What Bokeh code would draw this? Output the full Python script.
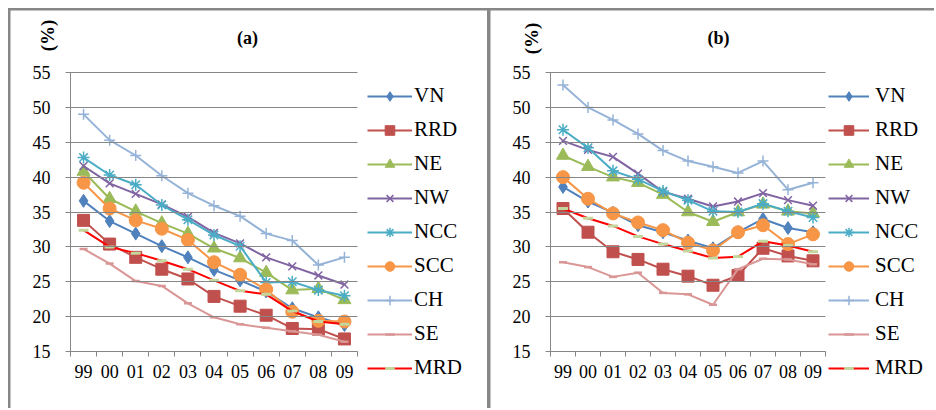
import math
from bokeh.plotting import figure
from bokeh.models import Range1d, FixedTicker, Legend, LegendItem, Label
from bokeh.layouts import row
from bokeh.embed import file_html
from bokeh.resources import INLINE

# ---------------- data ----------------
years = ["99", "00", "01", "02", "03", "04", "05", "06", "07", "08", "09"]
series_names = ["VN", "RRD", "NE", "NW", "NCC", "SCC", "CH", "SE", "MRD"]
y_ticks = [15, 20, 25, 30, 35, 40, 45, 50, 55]

a_VN = [36.6, 33.7, 31.9, 30.1, 28.5, 26.7, 25.2, 23.6, 21.2, 19.9, 18.8]
a_RRD = [33.8, 30.4, 28.5, 26.8, 25.4, 22.9, 21.5, 20.2, 18.3, 18.2, 16.8]
a_NE = [40.8, 36.9, 35.1, 33.4, 31.9, 29.8, 28.4, 26.3, 23.8, 24.0, 22.4]
a_NW = [41.6, 39.1, 37.6, 36.1, 34.3, 32.0, 30.5, 28.5, 27.2, 25.9, 24.6]
a_NCC = [42.8, 40.3, 38.9, 36.0, 33.9, 31.7, 30.1, 24.9, 25.0, 23.8, 23.0]
a_SCC = [39.2, 35.5, 33.8, 32.6, 31.0, 27.8, 26.0, 23.9, 20.7, 19.4, 19.3]
a_CH = [49.0, 45.3, 43.1, 40.2, 37.7, 35.9, 34.4, 31.9, 30.9, 27.4, 28.5]
a_SE = [29.7, 27.6, 25.1, 24.4, 21.9, 19.9, 18.9, 18.4, 17.9, 17.4, 16.4]
a_MRD = [32.4, 30.0, 29.1, 28.0, 26.8, 25.2, 23.7, 23.2, 20.8, 19.3, 18.9]

b_VN = [38.6, 36.5, 34.9, 33.1, 32.1, 30.9, 29.8, 32.1, 34.0, 32.7, 32.1]
b_RRD = [35.5, 32.1, 29.3, 28.2, 26.8, 25.8, 24.5, 25.9, 29.8, 28.7, 28.0]
b_NE = [43.1, 41.5, 40.0, 39.2, 37.5, 35.0, 33.6, 35.0, 36.1, 35.1, 34.8]
b_NW = [45.2, 43.9, 42.9, 40.5, 37.9, 36.9, 35.8, 36.5, 37.7, 36.7, 35.9]
b_NCC = [46.8, 44.2, 40.9, 39.7, 38.0, 36.7, 35.1, 35.0, 36.2, 35.1, 34.2]
b_SCC = [40.0, 36.9, 34.8, 33.5, 32.4, 30.6, 29.5, 32.1, 33.1, 30.4, 31.8]
b_CH = [53.2, 50.0, 48.2, 46.2, 43.8, 42.3, 41.5, 40.6, 42.3, 38.2, 39.2]
b_SE = [27.8, 27.1, 25.7, 26.3, 23.4, 23.2, 21.7, 26.8, 28.3, 28.2, 27.5]
b_MRD = [35.5, 34.1, 33.0, 31.5, 30.4, 29.4, 28.4, 28.6, 30.8, 30.2, 29.3]

panel_a = [a_VN, a_RRD, a_NE, a_NW, a_NCC, a_SCC, a_CH, a_SE, a_MRD]
panel_b = [b_VN, b_RRD, b_NE, b_NW, b_NCC, b_SCC, b_CH, b_SE, b_MRD]

# ---------------- styles ----------------
STYLE = {
    "VN":  dict(color="#4F81BD", marker="diamond", size=13, mcolor="#4F81BD", mlw=1),
    "RRD": dict(color="#C0504D", marker="square", size=12, mcolor="#C0504D", mlw=1),
    "NE":  dict(color="#9BBB59", marker="triangle", size=13, mcolor="#9BBB59", mlw=1),
    "NW":  dict(color="#8064A2", marker="x", size=11, mcolor="#8064A2", mlw=1.5),
    "NCC": dict(color="#4BACC6", marker="asterisk", size=12, mcolor="#4BACC6", mlw=1.5),
    "SCC": dict(color="#F79646", marker="circle", size=13, mcolor="#F79646", mlw=1),
    "CH":  dict(color="#95B3D7", marker="cross", size=11, mcolor="#95B3D7", mlw=1.5),
    "SE":  dict(color="#D99694", marker="dash", size=8, mcolor="#D99694", mlw=2.5),
    "MRD": dict(color="#FF0000", marker="dash", size=10, mcolor="#C3D69B", mlw=3),
}
GRAY = "#868686"
FONT = "'Liberation Serif', 'Times New Roman', serif"
FIG_H = 398
Y_TOP_PX, Y_BOT_PX = 62, 341          # pixel rows of 55 and 15 inside a figure
AXIS_X_PX = 60                        # pixel column of the y axis inside a figure


def build(values, title, width, right_px, leg_x, glyph_w, standoff, title_xy, pct_xy):
    n = len(years)
    xppu = (right_px - AXIS_X_PX) / n
    x0 = -0.5 - AXIS_X_PX / xppu
    x1 = n - 0.5 + (width - right_px) / xppu
    yppu = (Y_BOT_PX - Y_TOP_PX) / (y_ticks[-1] - y_ticks[0])
    y1 = y_ticks[-1] + Y_TOP_PX / yppu
    y0 = y_ticks[0] - (FIG_H - Y_BOT_PX) / yppu

    p = figure(width=width, height=FIG_H, output_backend="svg", toolbar_location=None,
               x_range=Range1d(x0, x1), y_range=Range1d(y0, y1),
               min_border_left=0, min_border_right=0,
               min_border_top=0, min_border_bottom=0)
    p.title.visible = False
    p.outline_line_color = None
    p.background_fill_color = "white"
    p.border_fill_color = "white"
    p.grid.visible = False

    xs = list(range(n))
    xa = p.xaxis[0]
    xa.fixed_location = y_ticks[0]
    xa.bounds = (-0.5, n - 0.5)
    xa.ticker = FixedTicker(ticks=xs, minor_ticks=[i - 0.5 for i in range(n + 1)])
    xa.major_label_overrides = {i: years[i] for i in xs}
    xa.major_tick_out = 0
    xa.major_tick_in = 0
    xa.minor_tick_out = 5
    xa.minor_tick_in = 0
    xa.minor_tick_line_color = GRAY
    xa.axis_line_color = GRAY
    xa.major_label_standoff = 8
    xa.major_label_text_font = FONT
    xa.major_label_text_font_size = "18px"
    xa.major_label_text_color = "#000000"

    ya = p.yaxis[0]
    ya.fixed_location = -0.5
    ya.bounds = (y_ticks[0], y_ticks[-1])
    ya.ticker = FixedTicker(ticks=y_ticks, minor_ticks=[])
    ya.major_tick_out = 5
    ya.major_tick_in = right_px - AXIS_X_PX     # ticks run across as gridlines
    ya.major_tick_line_color = GRAY
    ya.axis_line_color = GRAY
    ya.major_label_standoff = 15
    ya.major_label_text_font = FONT
    ya.major_label_text_font_size = "18px"
    ya.major_label_text_color = "#000000"

    items = []
    for name, vals in zip(series_names, values):
        st = STYLE[name]
        ln = p.line(xs, vals, line_color=st["color"], line_width=2)
        sc = p.scatter(xs, vals, marker=st["marker"], size=st["size"],
                       line_color=st["mcolor"], fill_color=st["mcolor"],
                       line_width=st["mlw"])
        items.append(LegendItem(label=name, renderers=[ln, sc]))

    legend = Legend(items=items, location=(leg_x, 28), orientation="vertical",
                    padding=0, margin=0, spacing=9,
                    glyph_width=glyph_w, glyph_height=24, label_height=24,
                    label_standoff=standoff,
                    label_text_font=FONT, label_text_font_size="21px",
                    label_text_color="#000000",
                    border_line_color=None, background_fill_alpha=0)
    p.add_layout(legend, "center")

    p.add_layout(Label(x=title_xy[0], y=FIG_H - title_xy[1], x_units="screen", y_units="screen",
                       text=title, text_font=FONT, text_font_size="18px",
                       text_font_style="bold", text_align="center",
                       text_baseline="middle", text_color="#000000"))
    p.add_layout(Label(x=pct_xy[0], y=FIG_H - pct_xy[1], x_units="screen", y_units="screen",
                       text="(%)", text_font=FONT, text_font_size="19px",
                       text_font_style="bold", text_align="center",
                       text_baseline="middle", angle=math.pi / 2,
                       text_color="#000000"))
    return p


pa = build(panel_a, "(a)", 477, 347, 357, 45, 2, (237, 27), (37, 25))
pb = build(panel_b, "(b)", 444, 335, 338, 41, 6, (228, 27), (41, 28))
pa.margin = (2, 0, 0, 2)
pb.margin = (2, 0, 0, 3)

layout = row(pa, pb, styles={"background-color": "#878787"})
layout.margin = (8, 0, 0, 8)

open("out.html", "w").write(file_html(layout, INLINE))
